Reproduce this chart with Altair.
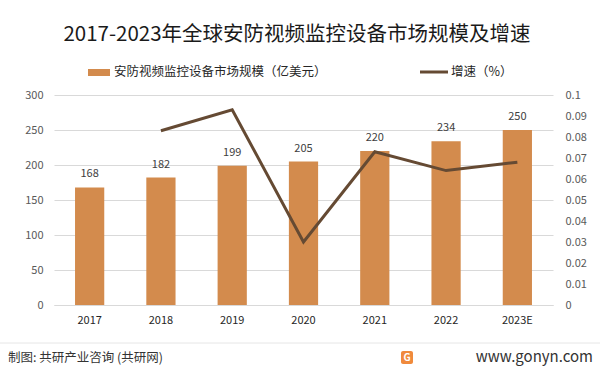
import altair as alt
import pandas as pd

# ---- data ----
years = ["2017", "2018", "2019", "2020", "2021", "2022", "2023E"]
market = [168, 182, 199, 205, 220, 234, 250]
growth = [None, 0.083, 0.093, 0.030, 0.073, 0.064, 0.068]
left_ticks = [0, 50, 100, 150, 200, 250, 300]
right_ticks = [0, 0.01, 0.02, 0.03, 0.04, 0.05, 0.06, 0.07, 0.08, 0.09, 0.1]

title_text = "2017-2023年全球安防视频监控设备市场规模及增速"
legend_bar = "安防视频监控设备市场规模（亿美元）"
legend_line = "增速（%）"
source_text = "制图: 共研产业咨询 (共研网)"
site_text = "www.gonyn.com"

BAR = "#D38B4D"
LINE = "#654A33"
FONT = "Noto Sans CJK SC"

# plot area geometry (page coords): left 54, top 95, width 499, height 210
L, T, W, H = 54, 95, 499, 210

df = pd.DataFrame({"year": years, "market": market, "growth": growth})

xenc = alt.X("year:N", sort=years, title=None,
             scale=alt.Scale(paddingInner=0.59, paddingOuter=0.295),
             axis=alt.Axis(labelAngle=0, labelFont=FONT, labelFontSize=11,
                           labelColor="#262626", labelPadding=9, ticks=False,
                           domainColor="#D9D9D9", grid=False))

yleft = alt.Y("market:Q", title=None,
              scale=alt.Scale(domain=[0, 300]),
              axis=alt.Axis(values=left_ticks, labelFont=FONT, labelFontSize=11,
                            labelColor="#595959", labelPadding=11, ticks=False,
                            domain=False, gridColor="#D9D9D9"))

bars = alt.Chart(df).mark_bar(color=BAR).encode(x=xenc, y=yleft)

labels = alt.Chart(df).mark_text(font=FONT, fontSize=11, color="#404040",
                                 baseline="bottom", dy=-8).encode(
    x=alt.X("year:N", sort=years),
    y=yleft,
    text="market:Q",
)

left_layer = alt.layer(bars, labels)

line = alt.Chart(df).transform_filter("datum.growth != null").mark_line(
    color=LINE, strokeWidth=3).encode(
    x=alt.X("year:N", sort=years),
    y=alt.Y("growth:Q", title=None,
            scale=alt.Scale(domain=[0, 0.1]),
            axis=alt.Axis(values=right_ticks, format="~g", orient="right",
                          labelFont=FONT, labelFontSize=11, labelColor="#595959",
                          labelPadding=12, ticks=False, domain=False, grid=False)),
)

one = pd.DataFrame({"a": [0]})


def txt(s, x, y, size, color="#262626", align="left", weight="normal"):
    return alt.Chart(one).mark_text(
        text=s, font=FONT, fontSize=size, color=color, align=align,
        baseline="middle", fontWeight=weight).encode(
        x=alt.value(x - L), y=alt.value(y - T))


def rect(x1, x2, y1, y2, color, r=0):
    return alt.Chart(one).mark_rect(color=color, cornerRadius=r).encode(
        x=alt.value(x1 - L), x2=alt.value(x2 - L),
        y=alt.value(y1 - T), y2=alt.value(y2 - T))


title = txt(title_text, 297, 35, 20.5, color="#1a1a1a", align="center")
leg1_sw = rect(88, 110, 69, 76, BAR)
leg1_t = txt(legend_bar, 114, 72, 12.5)
leg2_sw = alt.Chart(one).mark_rule(color=LINE, strokeWidth=3).encode(
    x=alt.value(420 - L), x2=alt.value(448 - L), y=alt.value(72 - T))
leg2_t = txt(legend_line, 451, 72, 12.5)
sep = alt.Chart(one).mark_rule(color="#E6E6E6", strokeWidth=1).encode(
    x=alt.value(0 - L), x2=alt.value(600 - L), y=alt.value(343 - T))
src = txt(source_text, 8, 358, 12.5, color="#333333")
logo = rect(401, 413, 351, 364, "#F08A3C", r=2)
logo_g = txt("G", 407, 357.5, 10, color="white", align="center", weight="bold")
site = txt(site_text, 593, 357, 15, color="#333333", align="right")

main = alt.layer(left_layer, line).resolve_scale(y="independent")

chart = alt.layer(main, title, leg1_sw, leg1_t, leg2_sw, leg2_t, sep, src,
                  logo, logo_g, site).properties(
    width=W, height=H,
    padding={"left": L, "top": T, "right": 600 - L - W, "bottom": 375 - T - H},
    autosize=alt.AutoSizeParams(type="none"),
    background="white",
).configure_view(stroke=None)

chart.save("out.html", embed_options={"renderer": "svg", "actions": False})
